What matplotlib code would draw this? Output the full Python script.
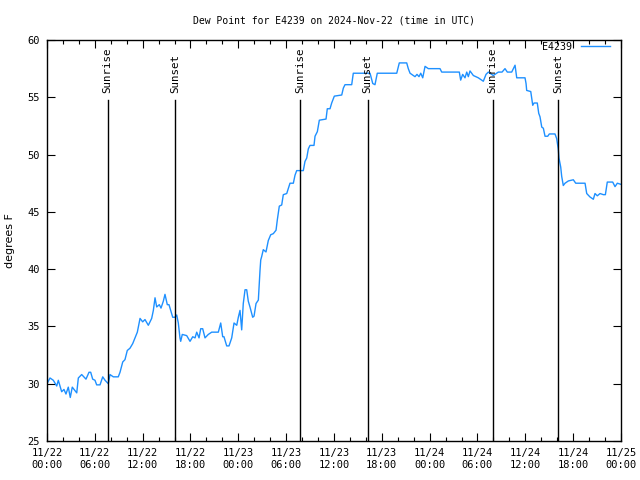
import numpy as np
import pandas as pd
import matplotlib
matplotlib.use("Agg")
import matplotlib.pyplot as plt
import matplotlib.dates as mdates

# hours since 2024-11-22 00:00 UTC, dew point in degrees F
hours = [0.0, 0.38, 0.79, 1.22, 1.42, 1.84, 2.13, 2.38, 2.67, 2.92, 3.17, 3.39, 3.73, 3.93,
         4.35, 4.89, 5.27, 5.48, 5.73, 6.02, 6.23, 6.65, 6.99, 7.28, 7.69, 7.90, 8.32, 8.94,
         9.16, 9.50, 9.78, 10.07, 10.41, 10.75, 11.04, 11.33, 11.67, 12.00, 12.29, 12.71,
         13.13, 13.34, 13.55, 13.76, 14.09, 14.30, 14.59, 14.80, 15.09, 15.30, 15.52, 15.77,
         16.06, 16.27, 16.47, 16.68, 16.77, 16.97, 17.52, 17.94, 18.28, 18.57, 18.78, 19.07,
         19.28, 19.53, 19.82, 20.23, 20.66, 21.49, 21.79, 22.04, 22.20, 22.54, 22.83, 23.17,
         23.46, 23.80, 24.00, 24.21, 24.42, 24.62, 24.84, 25.05, 25.25, 25.46, 25.80, 25.97,
         26.22, 26.51, 26.72, 26.81, 26.93, 27.13, 27.47, 27.76, 28.06, 28.39, 28.73, 28.89,
         29.14, 29.44, 29.64, 30.07, 30.48, 30.90, 31.11, 31.32, 32.15, 32.36, 32.58, 32.78,
         32.99, 33.49, 33.62, 33.91, 34.16, 35.00, 35.16, 35.50, 35.71, 36.04, 36.97, 37.17,
         37.38, 38.22, 38.42, 40.30, 40.52, 40.86, 41.14, 41.43, 43.87, 44.19, 45.12, 45.32,
         45.54, 46.16, 46.41, 46.66, 46.88, 47.13, 47.42, 47.83, 49.30, 49.51, 51.72, 51.89,
         52.14, 52.43, 52.65, 52.85, 53.06, 53.48, 54.10, 54.73, 55.07, 55.36, 55.98, 56.61,
         57.08, 57.45, 57.74, 58.29, 58.71, 58.92, 59.96, 60.09, 60.17, 60.68, 60.93, 61.09,
         61.50, 61.68, 61.84, 62.06, 62.26, 62.47, 62.81, 63.01, 63.72, 63.93, 64.13, 64.22,
         64.44, 64.56, 64.76, 64.98, 65.40, 66.02, 66.32, 67.49, 67.70, 68.11, 68.53, 68.74,
         69.03, 69.37, 69.79, 70.04, 70.28, 70.96, 71.25, 71.54, 72.0]
dewpt = [30.0, 30.5, 30.3, 29.8, 30.3, 29.3, 29.5, 29.1, 29.7, 28.8, 29.7, 29.5, 29.2, 30.5,
         30.8, 30.4, 31.0, 31.0, 30.4, 30.3, 29.9, 29.9, 30.6, 30.3, 30.0, 30.8, 30.6, 30.6,
         31.0, 31.9, 32.1, 32.9, 33.1, 33.5, 34.0, 34.5, 35.7, 35.4, 35.6, 35.1,
         35.7, 36.4, 37.5, 36.7, 36.9, 36.6, 37.2, 37.8, 36.9, 36.9, 36.4, 35.8,
         35.8, 36.0, 35.3, 34.0, 33.7, 34.3, 34.2, 33.7, 34.1, 34.0, 34.5, 34.0,
         34.8, 34.8, 34.0, 34.3, 34.5, 34.5, 35.3, 34.1, 34.1, 33.3, 33.3, 34.0,
         35.3, 35.1, 35.8, 36.4, 34.7, 37.0, 38.2, 38.2, 37.2, 36.7, 35.8, 35.9,
         37.0, 37.3, 39.9, 40.8, 41.1, 41.7, 41.5, 42.5, 43.0, 43.1, 43.4, 44.3,
         45.5, 45.6, 46.5, 46.6, 47.5, 47.5, 48.2, 48.6, 48.6, 49.4, 49.7, 50.5,
         50.8, 50.8, 51.6, 52.0, 53.0, 53.1, 54.0, 54.0, 54.5, 55.1, 55.2, 55.8,
         56.1, 56.1, 57.1, 57.1, 57.1, 56.2, 56.1, 57.1, 57.1, 58.0, 58.0, 57.5,
         57.1, 56.8, 57.0, 56.8, 57.1, 56.7, 57.7, 57.5, 57.5, 57.2, 57.2, 56.5,
         57.0, 56.7, 57.2, 56.8, 57.3, 56.9, 56.7, 56.4, 57.0, 57.2, 56.9, 57.2,
         57.2, 57.5, 57.2, 57.2, 57.8, 56.7, 56.7, 56.2, 55.6, 55.5, 54.3, 54.5,
         54.5, 53.6, 53.3, 52.4, 52.3, 51.6, 51.6, 51.8, 51.8, 51.4, 50.5, 49.7,
         48.9, 48.1, 47.3, 47.5, 47.7, 47.8, 47.5, 47.5, 46.6, 46.3, 46.1, 46.6,
         46.4, 46.6, 46.5, 46.5, 47.6, 47.6, 47.2, 47.5, 47.4]

sun_hours = [7.61, 16.06, 31.74, 40.23, 55.91, 64.14]
sun_labels = ["Sunrise", "Sunset", "Sunrise", "Sunset", "Sunrise", "Sunset"]

start = pd.Timestamp("2024-11-22 00:00")
times = start + pd.to_timedelta(hours, unit="h")
sun_times = start + pd.to_timedelta(sun_hours, unit="h")

plt.rcParams["font.family"] = "DejaVu Sans Mono"
plt.rcParams["font.size"] = 7.5

fig = plt.figure(figsize=(6.4, 4.8), dpi=100)
ax = fig.add_axes([47 / 640, 39 / 480, 574 / 640, 401 / 480])

ax.plot(times, dewpt, color="#1e90ff", linewidth=1.0, label="E4239")

for t, lab in zip(sun_times, sun_labels):
    ax.plot([t, t], [0, 0.85], color="black", linewidth=1.0,
            transform=ax.get_xaxis_transform())
    ax.text(t, 0.868, lab, rotation=90, ha="center", va="bottom", fontsize=7.8,
            transform=ax.get_xaxis_transform())

ax.set_xlim(start, start + pd.Timedelta(hours=72))
ax.set_ylim(25, 60)
ax.set_yticks(np.arange(25, 61, 5))
ax.xaxis.set_major_locator(mdates.HourLocator(byhour=[0, 6, 12, 18]))
ax.xaxis.set_minor_locator(mdates.HourLocator(interval=2))
ax.xaxis.set_major_formatter(mdates.DateFormatter("%m/%d\n%H:%M"))

ax.tick_params(which="both", direction="in", top=True, right=True, color="black")
ax.tick_params(which="major", length=6, width=0.8, pad=5)
ax.tick_params(which="minor", length=3, width=0.8)
for s in ax.spines.values():
    s.set_linewidth(1.0)

ax.set_ylabel("degrees F", family="DejaVu Sans", fontsize=8)
ax.yaxis.set_label_coords(-0.056, 0.5)
ax.set_title("Dew Point for E4239 on 2024-Nov-22 (time in UTC)", fontsize=7, pad=12)

leg = ax.legend(loc="upper right", bbox_to_anchor=(0.984, 1.0), frameon=False,
                markerfirst=False, handlelength=2.9, borderaxespad=0.0,
                borderpad=0.2, handletextpad=0.9, fontsize=7.2)

plt.savefig("out.png", dpi=100)
